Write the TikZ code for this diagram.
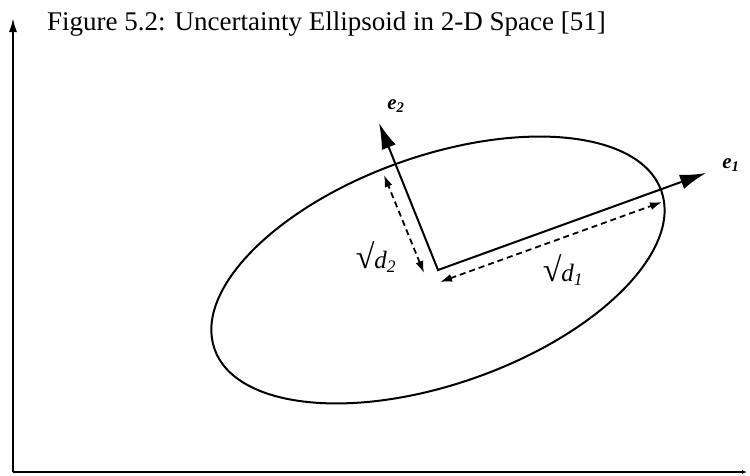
\documentclass[tikz,border=0pt]{standalone}
\usepackage{fontspec}
\setmainfont{Liberation Serif}
\usetikzlibrary{arrows.meta,calc}
\begin{document}
\begin{tikzpicture}[x=1pt,y=-1pt,
  line/.style={line width=2pt, line join=miter},
  bigtips/.style={{Latex[length=26pt,width=15pt]}-{Latex[length=26pt,width=15pt]}},
  dashline/.style={line width=1.8pt, dash pattern=on 6pt off 4pt},
  dtips/.style={{Latex[length=12pt,width=8pt]}-{Latex[length=12pt,width=8pt]}},
  elab/.style={inner sep=0pt, font=\bfseries\itshape\fontsize{21}{21}\selectfont},
  rlab/.style={inner sep=0pt, font=\fontsize{25}{25}\selectfont}]
\useasboundingbox (0,0) rectangle (750,475);
\coordinate (O) at (438,270);
\coordinate (org) at (13,472);
\coordinate (yax) at (13,18);
\coordinate (xax) at (747,472);
\coordinate (e1tip) at (706,173);
\coordinate (e2tip) at (379,123);
\coordinate (d1a) at (440,282);
\coordinate (d1b) at (662,202);
\coordinate (d2a) at (424,273);
\coordinate (d2b) at (384,175);
% axes
\draw[line, -{Latex[length=14pt,width=8pt]}] (org) -- (yax);
\draw[line, -{Latex[length=5pt,width=4pt]}] (org) -- (xax);
% title
\node[anchor=base west, font=\fontsize{27}{27}\selectfont, inner sep=0pt] (title) at (47,30) {Figure 5.2: Uncertainty Ellipsoid in 2-D Space [51]};
% ellipse
\draw[line, rotate around={19.5:(O)}] (O) ellipse [x radius=237pt, y radius=114pt];
% eigenvectors
\draw[line, bigtips] (e2tip) -- (O) -- (e1tip);
% dashed extents
\draw[dashline, dtips] (d1a) -- (d1b);
\draw[dashline, dtips] (d2a) -- (d2b);
% labels
\node[elab] (le1) at (731,165) {e\textsubscript{1}};
\node[elab] (le2) at (396,106) {e\textsubscript{2}};
\node[rlab] (ld2) at (376,257) {{\bfseries\fontsize{34}{34}\selectfont √}{\itshape d\textsubscript{2}}};
\node[rlab] (ld1) at (563,270) {{\bfseries\fontsize{34}{34}\selectfont √}{\itshape d\textsubscript{1}}};
\end{tikzpicture}
\end{document}
